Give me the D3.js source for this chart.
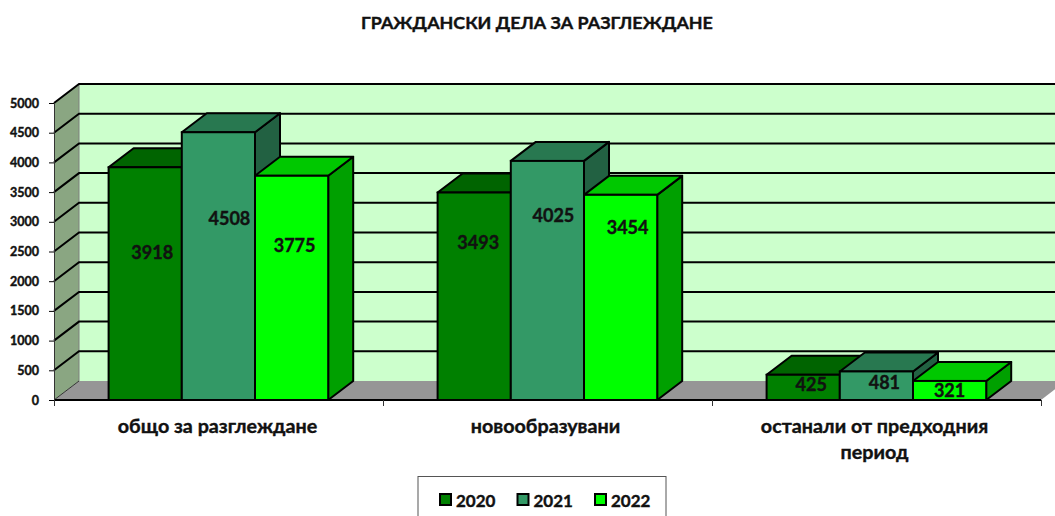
<!DOCTYPE html>
<html><head><meta charset="utf-8">
<script src="https://cdn.jsdelivr.net/npm/d3@7/dist/d3.min.js"></script>
<style>html,body{margin:0;padding:0;background:#fff;overflow:hidden}svg{display:block}text{font-family:Lato,"Open Sans",sans-serif;font-weight:700;fill:#111;stroke:#111;stroke-width:.4px}</style>
</head><body><svg id="c" width="1055" height="516"></svg>
<script>
const title = "ГРАЖДАНСКИ ДЕЛА ЗА РАЗГЛЕЖДАНЕ";
const categories = [["общо за разглеждане"],["новообразувани"],["останали от предходния","период"]];
const years = ["2020","2021","2022"];
const values2020 = [3918,3493,425];
const values2021 = [4508,4025,481];
const values2022 = [3775,3454,321];
const yTicks = [0,500,1000,1500,2000,2500,3000,3500,4000,4500,5000];
const frontColors = ["#008000","#339966","#00ff00"];
const topColors = ["#006400","#287850","#00c800"];
const sideColors = ["#005000","#226142","#00a000"];
// manually placed label centres in the original, as pixel offsets from bar centre / scale value
const labelDx = [[7,11,3],[4,6,7],[8,8,0]];
const labelValue = [[2500,3070,2610],[2665,3120,2915],[270,300,160]];

const svg = d3.select("#c");
const series = [values2020,values2021,values2022];
const dx = 25, dy = -19;
const x = d3.scaleLinear().domain([0,3]).range([54,1041]);
const y = d3.scaleLinear().domain([0,5000]).range([400,103]);
const barW = 73.2, barPad = 54.6;
const poly = (pts,fill,stroke,sw)=>svg.append("polygon").attr("points",pts.map(p=>p.join(",")).join(" ")).attr("fill",fill).attr("stroke",stroke||"none").attr("stroke-width",sw||0).attr("stroke-linejoin","round");

// back wall, side wall, floor
const xL=x(0), xR=x(3);
poly([[xL+dx,y(5000)+dy],[1060,y(5000)+dy],[1060,y(0)+dy],[xL+dx,y(0)+dy]],"#ccffcc");
poly([[xL,y(5000)],[xL+dx,y(5000)+dy],[xL+dx,y(0)+dy],[xL,y(0)]],"#8aa682");
poly([[xL,y(0)],[xL+dx,y(0)+dy],[xR+dx,y(0)+dy],[xR,y(0)]],"#969696");
svg.append("line").attr("x1",xL+dx).attr("x2",xL+dx).attr("y1",y(5000)+dy).attr("y2",y(0)+dy).attr("stroke","#7f7f7f").attr("stroke-width",1);
svg.append("g").selectAll("path").data(yTicks.filter(d=>d>0)).join("path")
  .attr("d",d=>`M${xL},${y(d)}L${xL+dx},${y(d)+dy}L1060,${y(d)+dy}`)
  .attr("fill","none").attr("stroke","#000").attr("stroke-width",2);
svg.append("line").attr("x1",xL).attr("x2",xL+dx).attr("y1",y(0)).attr("y2",y(0)+dy).attr("stroke","#333").attr("stroke-width",1);

// bars
categories.forEach((c,i)=>{
  series.forEach((s,k)=>{
    const v=s[i], l=x(i)+barPad+k*barW, r=l+barW, t=y(v), b=y(0);
    poly([[r,t],[r+dx,t+dy],[r+dx,b+dy],[r,b]],sideColors[k],"#000",2);
    poly([[l,t],[l+dx,t+dy],[r+dx,t+dy],[r,t]],topColors[k],"#000",2);
    svg.append("rect").attr("x",l).attr("y",t).attr("width",barW).attr("height",b-t).attr("fill",frontColors[k]).attr("stroke","#000").attr("stroke-width",2);
  });
});
categories.forEach((c,i)=>{
  series.forEach((s,k)=>{
    const cx=x(i)+barPad+k*barW+barW/2;
    svg.append("text").attr("x",cx+labelDx[i][k]).attr("y",y(labelValue[i][k])).attr("text-anchor","middle").attr("dominant-baseline","central").attr("font-size",18).text(s[i]);
  });
});

// axes
svg.append("line").attr("x1",xL).attr("x2",xR).attr("y1",y(0)).attr("y2",y(0)).attr("stroke","#000").attr("stroke-width",2);
const ay=svg.append("g").attr("transform",`translate(${xL},0)`).call(d3.axisLeft(y).tickValues(yTicks).tickSize(5).tickPadding(10).tickFormat(d3.format("d")));
ay.selectAll("text").attr("font-size",12.5);
ay.select(".domain").attr("stroke","#333");
const ax=svg.append("g").attr("transform",`translate(0,${y(0)})`).call(d3.axisBottom(x).tickValues([0,1,2,3]).tickSize(6).tickFormat(""));
ax.select(".domain").remove();
ax.selectAll("line").attr("stroke","#333");

// category labels
categories.forEach((c,i)=>{
  const t=svg.append("text").attr("x",x(i+0.5)).attr("y",433).attr("text-anchor","middle").attr("font-size",19.7);
  c.forEach((ln,j)=>t.append("tspan").attr("x",x(i+0.5)-(i===0?1:2)).attr("dy",j?26:0).text(ln));
});
svg.append("text").attr("x",537).attr("y",29).attr("text-anchor","middle").attr("font-size",17.9).text(title);

// legend
svg.append("rect").attr("x",418).attr("y",476.5).attr("width",248).attr("height",60).attr("fill","#fff").attr("stroke","#555").attr("stroke-width",1);
const legendStep = d3.scaleLinear().domain([0,2]).range([440,595]);
years.forEach((yr,k)=>{
  const lx=legendStep(k);
  svg.append("rect").attr("x",lx).attr("y",494).attr("width",11).attr("height",11).attr("fill",frontColors[k]).attr("stroke","#000").attr("stroke-width",2);
  svg.append("text").attr("x",lx+16).attr("y",500).attr("dominant-baseline","central").attr("font-size",17).text(yr);
});
</script></body></html>
